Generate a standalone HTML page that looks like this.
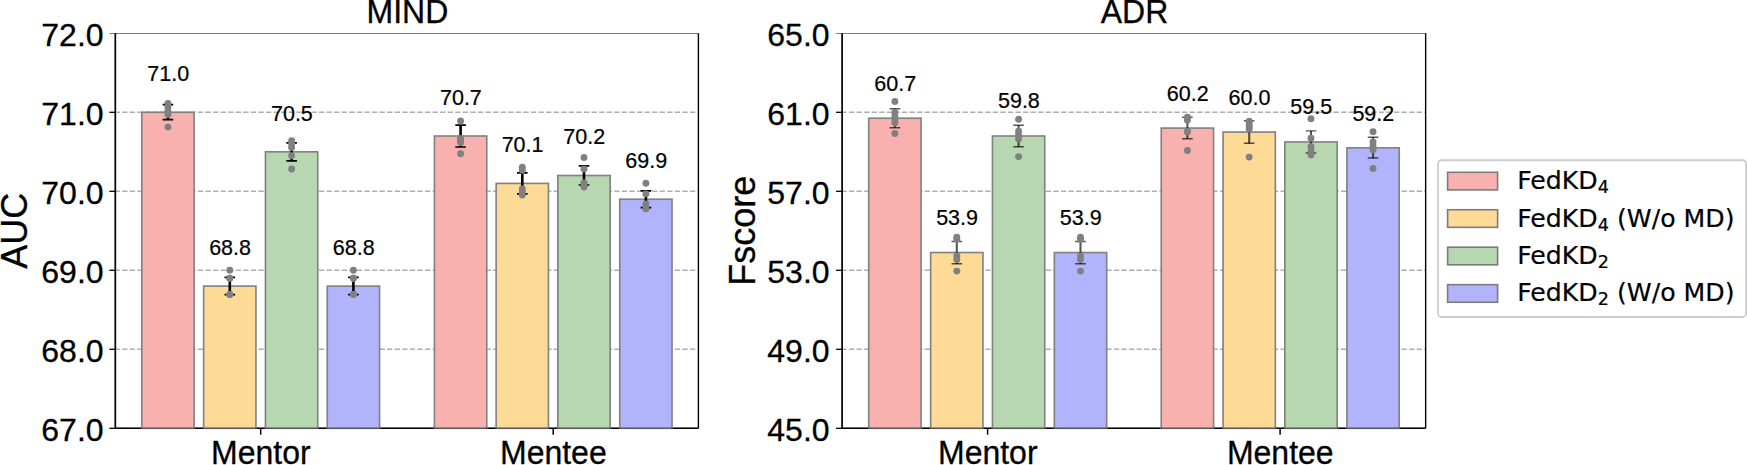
<!DOCTYPE html>
<html lang="en">
<head>
<meta charset="utf-8">
<title>FedKD ablation: MIND and ADR</title>
<style>
html,body{margin:0;padding:0;background:#fff;}
body{width:1747px;height:465px;overflow:hidden;}
svg{display:block;}
svg text{stroke:#000;stroke-width:.3px;stroke-linejoin:round;}
svg text.v{stroke-width:.22px;}
svg g.lg text{stroke-width:.2px;}
</style>
</head>
<body>
<svg width="1747" height="465" viewBox="0 0 1747 465">
<rect width="1747" height="465" fill="#fff"/>
<g font-family="'Liberation Sans', Arial, Helvetica, sans-serif" fill="#000">
<line x1="115.3" x2="698.4" y1="349.30" y2="349.30" stroke="#aeaeae" stroke-width="1.5" stroke-dasharray="5.3 2.27" stroke-dashoffset="0.7"/>
<line x1="115.3" x2="698.4" y1="270.30" y2="270.30" stroke="#aeaeae" stroke-width="1.5" stroke-dasharray="5.3 2.27" stroke-dashoffset="0.7"/>
<line x1="115.3" x2="698.4" y1="191.30" y2="191.30" stroke="#aeaeae" stroke-width="1.5" stroke-dasharray="5.3 2.27" stroke-dashoffset="0.7"/>
<line x1="115.3" x2="698.4" y1="112.30" y2="112.30" stroke="#aeaeae" stroke-width="1.5" stroke-dasharray="5.3 2.27" stroke-dashoffset="0.7"/>
<line x1="115.3" x2="698.4" y1="428.3" y2="428.3" stroke="#000" stroke-width="1.4"/>
<rect x="141.79999999999998" y="112.30" width="52.30" height="316.00" fill="#F9B1AF" stroke="#828282" stroke-width="1.65"/>
<rect x="203.65" y="286.10" width="52.30" height="142.20" fill="#FDDA96" stroke="#828282" stroke-width="1.65"/>
<rect x="265.45000000000005" y="151.80" width="52.30" height="276.50" fill="#B7D7B0" stroke="#828282" stroke-width="1.65"/>
<rect x="327.25" y="286.10" width="52.30" height="142.20" fill="#B1B3FB" stroke="#828282" stroke-width="1.65"/>
<rect x="434.45000000000005" y="136.00" width="52.30" height="292.30" fill="#F9B1AF" stroke="#828282" stroke-width="1.65"/>
<rect x="496.15" y="183.40" width="52.30" height="244.90" fill="#FDDA96" stroke="#828282" stroke-width="1.65"/>
<rect x="557.85" y="175.50" width="52.30" height="252.80" fill="#B7D7B0" stroke="#828282" stroke-width="1.65"/>
<rect x="619.75" y="199.20" width="52.30" height="229.10" fill="#B1B3FB" stroke="#828282" stroke-width="1.65"/>
<path d="M167.95 104.6V119.6" stroke="#000" stroke-opacity="1" stroke-width="2.6" fill="none"/>
<path d="M162.65 104.6h10.6M162.65 119.6h10.6" stroke="#000" stroke-opacity="1" stroke-width="1.7" fill="none"/>
<circle cx="167.95" cy="103.5" r="3.45" fill="#808080"/>
<circle cx="167.95" cy="107" r="3.45" fill="#808080"/>
<circle cx="167.95" cy="111" r="3.45" fill="#808080"/>
<circle cx="167.95" cy="114.5" r="3.45" fill="#808080"/>
<circle cx="167.95" cy="127.1" r="3.45" fill="#808080"/>
<text x="168.25" y="81.40" class="v" font-size="21.5" text-anchor="middle">71.0</text>
<path d="M229.80 277.4V294.6" stroke="#000" stroke-opacity="1" stroke-width="2.6" fill="none"/>
<path d="M224.50 277.4h10.6M224.50 294.6h10.6" stroke="#000" stroke-opacity="1" stroke-width="1.7" fill="none"/>
<circle cx="229.80" cy="270.2" r="3.45" fill="#808080"/>
<circle cx="229.80" cy="278.2" r="3.45" fill="#808080"/>
<circle cx="229.80" cy="294.5" r="3.45" fill="#808080"/>
<circle cx="229.80" cy="294.5" r="3.45" fill="#808080"/>
<circle cx="229.80" cy="278.2" r="3.45" fill="#808080"/>
<text x="230.10" y="254.50" class="v" font-size="21.5" text-anchor="middle">68.8</text>
<path d="M291.60 142.8V160.9" stroke="#000" stroke-opacity="1" stroke-width="2.6" fill="none"/>
<path d="M286.30 142.8h10.6M286.30 160.9h10.6" stroke="#000" stroke-opacity="1" stroke-width="1.7" fill="none"/>
<circle cx="291.60" cy="140.6" r="3.45" fill="#808080"/>
<circle cx="291.60" cy="143.7" r="3.45" fill="#808080"/>
<circle cx="291.60" cy="147.4" r="3.45" fill="#808080"/>
<circle cx="291.60" cy="155.8" r="3.45" fill="#808080"/>
<circle cx="291.60" cy="169" r="3.45" fill="#808080"/>
<text x="291.90" y="120.90" class="v" font-size="21.5" text-anchor="middle">70.5</text>
<path d="M353.40 277.4V294.6" stroke="#000" stroke-opacity="1" stroke-width="2.6" fill="none"/>
<path d="M348.10 277.4h10.6M348.10 294.6h10.6" stroke="#000" stroke-opacity="1" stroke-width="1.7" fill="none"/>
<circle cx="353.40" cy="270.2" r="3.45" fill="#808080"/>
<circle cx="353.40" cy="278.2" r="3.45" fill="#808080"/>
<circle cx="353.40" cy="294.5" r="3.45" fill="#808080"/>
<circle cx="353.40" cy="294.5" r="3.45" fill="#808080"/>
<circle cx="353.40" cy="278.2" r="3.45" fill="#808080"/>
<text x="353.70" y="254.50" class="v" font-size="21.5" text-anchor="middle">68.8</text>
<path d="M460.60 125.2V147" stroke="#000" stroke-opacity="1" stroke-width="2.6" fill="none"/>
<path d="M455.30 125.2h10.6M455.30 147h10.6" stroke="#000" stroke-opacity="1" stroke-width="1.7" fill="none"/>
<circle cx="460.60" cy="120.9" r="3.45" fill="#808080"/>
<circle cx="460.60" cy="138.5" r="3.45" fill="#808080"/>
<circle cx="460.60" cy="142.5" r="3.45" fill="#808080"/>
<circle cx="460.60" cy="153.7" r="3.45" fill="#808080"/>
<circle cx="460.60" cy="140" r="3.45" fill="#808080"/>
<text x="460.90" y="104.90" class="v" font-size="21.5" text-anchor="middle">70.7</text>
<path d="M522.30 172.8V193.9" stroke="#000" stroke-opacity="1" stroke-width="2.6" fill="none"/>
<path d="M517.00 172.8h10.6M517.00 193.9h10.6" stroke="#000" stroke-opacity="1" stroke-width="1.7" fill="none"/>
<circle cx="522.30" cy="167.2" r="3.45" fill="#808080"/>
<circle cx="522.30" cy="170.2" r="3.45" fill="#808080"/>
<circle cx="522.30" cy="189" r="3.45" fill="#808080"/>
<circle cx="522.30" cy="192" r="3.45" fill="#808080"/>
<circle cx="522.30" cy="195" r="3.45" fill="#808080"/>
<text x="522.60" y="152.00" class="v" font-size="21.5" text-anchor="middle">70.1</text>
<path d="M584.00 165.8V185.0" stroke="#000" stroke-opacity="1" stroke-width="2.6" fill="none"/>
<path d="M578.70 165.8h10.6M578.70 185.0h10.6" stroke="#000" stroke-opacity="1" stroke-width="1.7" fill="none"/>
<circle cx="584.00" cy="157.5" r="3.45" fill="#808080"/>
<circle cx="584.00" cy="169" r="3.45" fill="#808080"/>
<circle cx="584.00" cy="182.8" r="3.45" fill="#808080"/>
<circle cx="584.00" cy="185" r="3.45" fill="#808080"/>
<circle cx="584.00" cy="187" r="3.45" fill="#808080"/>
<text x="584.30" y="143.90" class="v" font-size="21.5" text-anchor="middle">70.2</text>
<path d="M645.90 190.9V207.6" stroke="#000" stroke-opacity="1" stroke-width="2.6" fill="none"/>
<path d="M640.60 190.9h10.6M640.60 207.6h10.6" stroke="#000" stroke-opacity="1" stroke-width="1.7" fill="none"/>
<circle cx="645.90" cy="183.3" r="3.45" fill="#808080"/>
<circle cx="645.90" cy="193.9" r="3.45" fill="#808080"/>
<circle cx="645.90" cy="204" r="3.45" fill="#808080"/>
<circle cx="645.90" cy="206.5" r="3.45" fill="#808080"/>
<circle cx="645.90" cy="208.9" r="3.45" fill="#808080"/>
<text x="646.20" y="167.90" class="v" font-size="21.5" text-anchor="middle">69.9</text>
<line x1="109.3" x2="698.4" y1="33.5" y2="33.5" stroke="#6e6e6e" stroke-width="0.9"/>
<line x1="698.4" x2="698.4" y1="33.3" y2="428.3" stroke="#000" stroke-width="1.4"/>
<line x1="115.3" x2="115.3" y1="33.3" y2="428.8" stroke="#000" stroke-width="1.7"/>
<line x1="109.30" x2="115.30" y1="428.30" y2="428.30" stroke="#000" stroke-width="1.3"/>
<text x="103.6" y="440.80" font-size="32" text-anchor="end">67.0</text>
<line x1="109.30" x2="115.30" y1="349.30" y2="349.30" stroke="#000" stroke-width="1.3"/>
<text x="103.6" y="361.80" font-size="32" text-anchor="end">68.0</text>
<line x1="109.30" x2="115.30" y1="270.30" y2="270.30" stroke="#000" stroke-width="1.3"/>
<text x="103.6" y="282.80" font-size="32" text-anchor="end">69.0</text>
<line x1="109.30" x2="115.30" y1="191.30" y2="191.30" stroke="#000" stroke-width="1.3"/>
<text x="103.6" y="203.80" font-size="32" text-anchor="end">70.0</text>
<line x1="109.30" x2="115.30" y1="112.30" y2="112.30" stroke="#000" stroke-width="1.3"/>
<text x="103.6" y="124.80" font-size="32" text-anchor="end">71.0</text>
<text x="103.6" y="45.80" font-size="32" text-anchor="end">72.0</text>
<line x1="260.70" x2="260.70" y1="428.3" y2="434.7" stroke="#000" stroke-width="1.5"/>
<text transform="translate(260.85 464.0) scale(1 1.035)" font-size="32" text-anchor="middle">Mentor</text>
<line x1="553.20" x2="553.20" y1="428.3" y2="434.7" stroke="#000" stroke-width="1.5"/>
<text transform="translate(553.35 464.0) scale(1 1.035)" font-size="32" text-anchor="middle">Mentee</text>
<line x1="115.3" x2="698.4" y1="428.3" y2="428.3" stroke="#000" stroke-opacity="0.3" stroke-width="1.4"/>
<text transform="translate(407.45 23.4) scale(1 1.035)" font-size="32" text-anchor="middle">MIND</text>
<text transform="translate(27.2 230.80) rotate(-90)" font-size="36" text-anchor="middle">AUC</text>
<line x1="842.1" x2="1425.65" y1="349.30" y2="349.30" stroke="#aeaeae" stroke-width="1.5" stroke-dasharray="5.3 2.27" stroke-dashoffset="0.7"/>
<line x1="842.1" x2="1425.65" y1="270.30" y2="270.30" stroke="#aeaeae" stroke-width="1.5" stroke-dasharray="5.3 2.27" stroke-dashoffset="0.7"/>
<line x1="842.1" x2="1425.65" y1="191.30" y2="191.30" stroke="#aeaeae" stroke-width="1.5" stroke-dasharray="5.3 2.27" stroke-dashoffset="0.7"/>
<line x1="842.1" x2="1425.65" y1="112.30" y2="112.30" stroke="#aeaeae" stroke-width="1.5" stroke-dasharray="5.3 2.27" stroke-dashoffset="0.7"/>
<line x1="842.1" x2="1425.65" y1="428.3" y2="428.3" stroke="#000" stroke-width="1.4"/>
<rect x="868.75" y="118.22" width="52.30" height="310.08" fill="#F9B1AF" stroke="#828282" stroke-width="1.65"/>
<rect x="930.65" y="252.53" width="52.30" height="175.77" fill="#FDDA96" stroke="#828282" stroke-width="1.65"/>
<rect x="992.45" y="136.00" width="52.30" height="292.30" fill="#B7D7B0" stroke="#828282" stroke-width="1.65"/>
<rect x="1054.35" y="252.53" width="52.30" height="175.77" fill="#B1B3FB" stroke="#828282" stroke-width="1.65"/>
<rect x="1161.25" y="128.10" width="52.30" height="300.20" fill="#F9B1AF" stroke="#828282" stroke-width="1.65"/>
<rect x="1223.05" y="132.05" width="52.30" height="296.25" fill="#FDDA96" stroke="#828282" stroke-width="1.65"/>
<rect x="1284.85" y="141.93" width="52.30" height="286.38" fill="#B7D7B0" stroke="#828282" stroke-width="1.65"/>
<rect x="1346.8999999999999" y="147.85" width="52.30" height="280.45" fill="#B1B3FB" stroke="#828282" stroke-width="1.65"/>
<path d="M894.90 108.75V127.75" stroke="#000" stroke-opacity="0.66" stroke-width="2.1" fill="none"/>
<path d="M889.60 108.75h10.6M889.60 127.75h10.6" stroke="#000" stroke-opacity="0.66" stroke-width="1.4" fill="none"/>
<circle cx="894.90" cy="101.5" r="3.45" fill="#808080"/>
<circle cx="894.90" cy="112.5" r="3.45" fill="#808080"/>
<circle cx="894.90" cy="116" r="3.45" fill="#808080"/>
<circle cx="894.90" cy="119.5" r="3.45" fill="#808080"/>
<circle cx="894.90" cy="122.8" r="3.45" fill="#808080"/>
<circle cx="894.90" cy="133.5" r="3.45" fill="#808080"/>
<text x="895.20" y="91.40" class="v" font-size="21.5" text-anchor="middle">60.7</text>
<path d="M956.80 241.5V263.7" stroke="#000" stroke-opacity="0.66" stroke-width="2.1" fill="none"/>
<path d="M951.50 241.5h10.6M951.50 263.7h10.6" stroke="#000" stroke-opacity="0.66" stroke-width="1.4" fill="none"/>
<circle cx="956.80" cy="237.2" r="3.45" fill="#808080"/>
<circle cx="956.80" cy="239.2" r="3.45" fill="#808080"/>
<circle cx="956.80" cy="255.9" r="3.45" fill="#808080"/>
<circle cx="956.80" cy="259.6" r="3.45" fill="#808080"/>
<circle cx="956.80" cy="271.1" r="3.45" fill="#808080"/>
<text x="957.10" y="224.90" class="v" font-size="21.5" text-anchor="middle">53.9</text>
<path d="M1018.60 125.2V146.8" stroke="#000" stroke-opacity="0.66" stroke-width="2.1" fill="none"/>
<path d="M1013.30 125.2h10.6M1013.30 146.8h10.6" stroke="#000" stroke-opacity="0.66" stroke-width="1.4" fill="none"/>
<circle cx="1018.60" cy="119.3" r="3.45" fill="#808080"/>
<circle cx="1018.60" cy="131.1" r="3.45" fill="#808080"/>
<circle cx="1018.60" cy="135" r="3.45" fill="#808080"/>
<circle cx="1018.60" cy="139" r="3.45" fill="#808080"/>
<circle cx="1018.60" cy="156.6" r="3.45" fill="#808080"/>
<text x="1018.90" y="108.40" class="v" font-size="21.5" text-anchor="middle">59.8</text>
<path d="M1080.50 241.5V263.7" stroke="#000" stroke-opacity="0.66" stroke-width="2.1" fill="none"/>
<path d="M1075.20 241.5h10.6M1075.20 263.7h10.6" stroke="#000" stroke-opacity="0.66" stroke-width="1.4" fill="none"/>
<circle cx="1080.50" cy="237.2" r="3.45" fill="#808080"/>
<circle cx="1080.50" cy="239.2" r="3.45" fill="#808080"/>
<circle cx="1080.50" cy="255.9" r="3.45" fill="#808080"/>
<circle cx="1080.50" cy="259.6" r="3.45" fill="#808080"/>
<circle cx="1080.50" cy="271.1" r="3.45" fill="#808080"/>
<text x="1080.80" y="224.90" class="v" font-size="21.5" text-anchor="middle">53.9</text>
<path d="M1187.40 117.2V138.7" stroke="#000" stroke-opacity="0.66" stroke-width="2.1" fill="none"/>
<path d="M1182.10 117.2h10.6M1182.10 138.7h10.6" stroke="#000" stroke-opacity="0.66" stroke-width="1.4" fill="none"/>
<circle cx="1187.40" cy="117.2" r="3.45" fill="#808080"/>
<circle cx="1187.40" cy="120.2" r="3.45" fill="#808080"/>
<circle cx="1187.40" cy="131.8" r="3.45" fill="#808080"/>
<circle cx="1187.40" cy="131.8" r="3.45" fill="#808080"/>
<circle cx="1187.40" cy="150.5" r="3.45" fill="#808080"/>
<text x="1187.70" y="100.50" class="v" font-size="21.5" text-anchor="middle">60.2</text>
<path d="M1249.20 120.8V143.3" stroke="#000" stroke-opacity="0.66" stroke-width="2.1" fill="none"/>
<path d="M1243.90 120.8h10.6M1243.90 143.3h10.6" stroke="#000" stroke-opacity="0.66" stroke-width="1.4" fill="none"/>
<circle cx="1249.20" cy="121.3" r="3.45" fill="#808080"/>
<circle cx="1249.20" cy="124" r="3.45" fill="#808080"/>
<circle cx="1249.20" cy="126.6" r="3.45" fill="#808080"/>
<circle cx="1249.20" cy="129" r="3.45" fill="#808080"/>
<circle cx="1249.20" cy="157.1" r="3.45" fill="#808080"/>
<text x="1249.50" y="105.00" class="v" font-size="21.5" text-anchor="middle">60.0</text>
<path d="M1311.00 130.9V153.0" stroke="#000" stroke-opacity="0.66" stroke-width="2.1" fill="none"/>
<path d="M1305.70 130.9h10.6M1305.70 153.0h10.6" stroke="#000" stroke-opacity="0.66" stroke-width="1.4" fill="none"/>
<circle cx="1311.00" cy="118.8" r="3.45" fill="#808080"/>
<circle cx="1311.00" cy="138.2" r="3.45" fill="#808080"/>
<circle cx="1311.00" cy="146.8" r="3.45" fill="#808080"/>
<circle cx="1311.00" cy="151" r="3.45" fill="#808080"/>
<circle cx="1311.00" cy="155.1" r="3.45" fill="#808080"/>
<text x="1311.30" y="114.25" class="v" font-size="21.5" text-anchor="middle">59.5</text>
<path d="M1373.05 137.2V158" stroke="#000" stroke-opacity="0.66" stroke-width="2.1" fill="none"/>
<path d="M1367.75 137.2h10.6M1367.75 158h10.6" stroke="#000" stroke-opacity="0.66" stroke-width="1.4" fill="none"/>
<circle cx="1373.05" cy="131.7" r="3.45" fill="#808080"/>
<circle cx="1373.05" cy="142" r="3.45" fill="#808080"/>
<circle cx="1373.05" cy="146" r="3.45" fill="#808080"/>
<circle cx="1373.05" cy="149.7" r="3.45" fill="#808080"/>
<circle cx="1373.05" cy="168.5" r="3.45" fill="#808080"/>
<text x="1373.35" y="120.50" class="v" font-size="21.5" text-anchor="middle">59.2</text>
<line x1="836.1" x2="1425.65" y1="33.5" y2="33.5" stroke="#6e6e6e" stroke-width="0.9"/>
<line x1="1425.65" x2="1425.65" y1="33.3" y2="428.3" stroke="#000" stroke-width="1.4"/>
<line x1="842.1" x2="842.1" y1="33.3" y2="428.8" stroke="#000" stroke-width="1.7"/>
<line x1="836.10" x2="842.10" y1="428.30" y2="428.30" stroke="#000" stroke-width="1.3"/>
<text x="829.6" y="440.80" font-size="32" text-anchor="end">45.0</text>
<line x1="836.10" x2="842.10" y1="349.30" y2="349.30" stroke="#000" stroke-width="1.3"/>
<text x="829.6" y="361.80" font-size="32" text-anchor="end">49.0</text>
<line x1="836.10" x2="842.10" y1="270.30" y2="270.30" stroke="#000" stroke-width="1.3"/>
<text x="829.6" y="282.80" font-size="32" text-anchor="end">53.0</text>
<line x1="836.10" x2="842.10" y1="191.30" y2="191.30" stroke="#000" stroke-width="1.3"/>
<text x="829.6" y="203.80" font-size="32" text-anchor="end">57.0</text>
<line x1="836.10" x2="842.10" y1="112.30" y2="112.30" stroke="#000" stroke-width="1.3"/>
<text x="829.6" y="124.80" font-size="32" text-anchor="end">61.0</text>
<text x="829.6" y="45.80" font-size="32" text-anchor="end">65.0</text>
<line x1="987.60" x2="987.60" y1="428.3" y2="434.7" stroke="#000" stroke-width="1.5"/>
<text transform="translate(987.75 464.0) scale(1 1.035)" font-size="32" text-anchor="middle">Mentor</text>
<line x1="1280.10" x2="1280.10" y1="428.3" y2="434.7" stroke="#000" stroke-width="1.5"/>
<text transform="translate(1280.25 464.0) scale(1 1.035)" font-size="32" text-anchor="middle">Mentee</text>
<line x1="842.1" x2="1425.65" y1="428.3" y2="428.3" stroke="#000" stroke-opacity="0.3" stroke-width="1.4"/>
<text transform="translate(1134.47 23.4) scale(1 1.035)" font-size="32" text-anchor="middle">ADR</text>
<text transform="translate(755.2 230.80) rotate(-90)" font-size="36" text-anchor="middle">Fscore</text>
</g>
<rect x="1438.1" y="160.2" width="308" height="156.8" rx="3.6" ry="3.6" fill="#fff" stroke="#cdcdcd" stroke-width="1.9"/>
<g class="lg" font-family="'DejaVu Sans', 'Liberation Sans', sans-serif" fill="#000" font-size="25.2">
<rect x="1447.6" y="172.30" width="50.0" height="17.6" fill="#F9B1AF" stroke="#7c7c7c" stroke-width="1.6"/>
<text x="1517.2" y="189.40">FedKD<tspan font-size="17.6" dy="4">4</tspan><tspan dy="-4"></tspan></text>
<rect x="1447.6" y="209.75" width="50.0" height="17.6" fill="#FDDA96" stroke="#7c7c7c" stroke-width="1.6"/>
<text x="1517.2" y="226.60">FedKD<tspan font-size="17.6" dy="4">4</tspan><tspan dy="-4"> (W/o MD)</tspan></text>
<rect x="1447.6" y="247.20" width="50.0" height="17.6" fill="#B7D7B0" stroke="#7c7c7c" stroke-width="1.6"/>
<text x="1517.2" y="263.80">FedKD<tspan font-size="17.6" dy="4">2</tspan><tspan dy="-4"></tspan></text>
<rect x="1447.6" y="284.65" width="50.0" height="17.6" fill="#B1B3FB" stroke="#7c7c7c" stroke-width="1.6"/>
<text x="1517.2" y="301.00">FedKD<tspan font-size="17.6" dy="4">2</tspan><tspan dy="-4"> (W/o MD)</tspan></text>
</g>
</svg>
</body>
</html>
